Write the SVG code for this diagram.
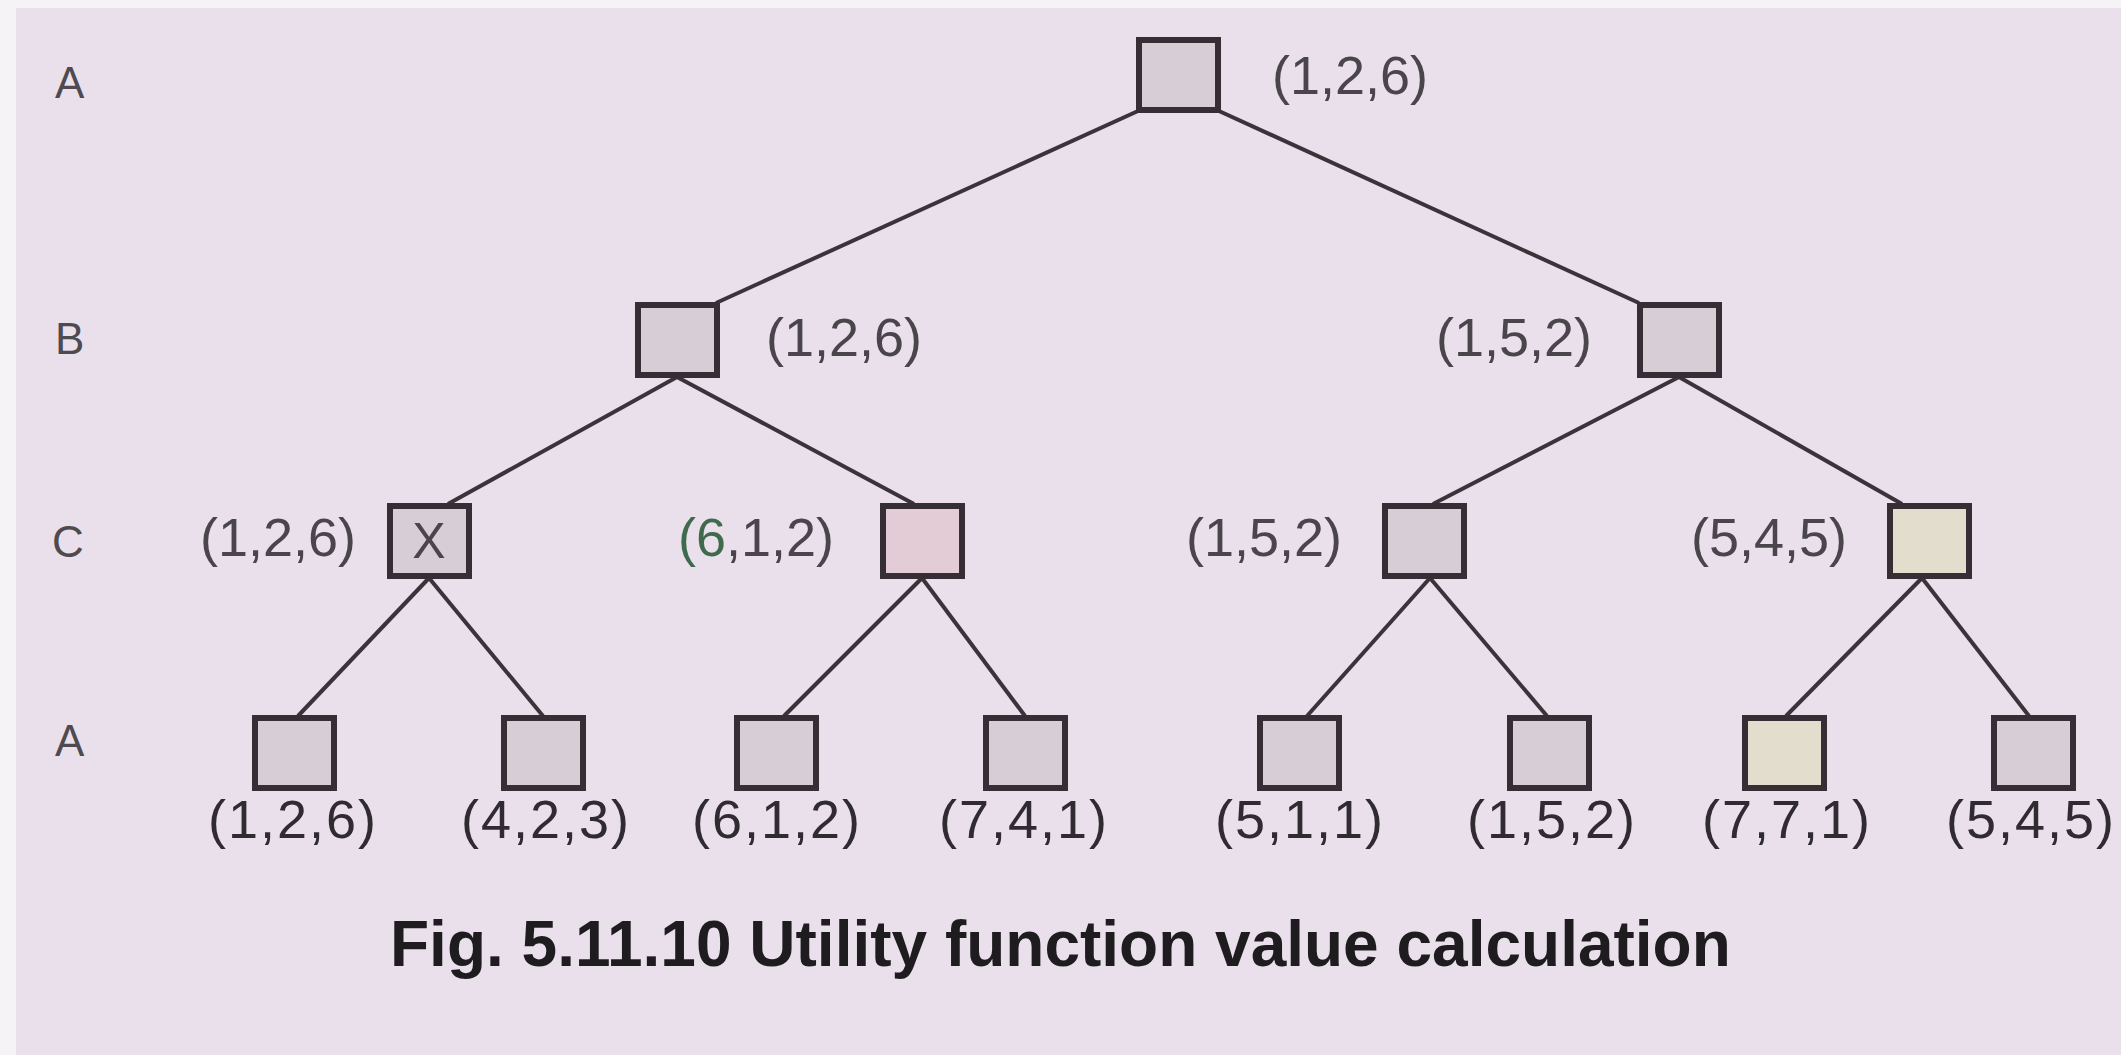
<svg xmlns="http://www.w3.org/2000/svg" width="2121" height="1055" viewBox="0 0 2121 1055">
<style>
.bg{fill:#e9e0ec}
.box{fill:#d6cdd6;stroke:#352e34;stroke-width:6}
.pink{fill:#e4ccd6}
.yel{fill:#e2ddcd}
.edge{stroke:#3a3339;stroke-width:4;fill:none}
.lbl{font-family:"Liberation Sans",Arial,sans-serif;font-size:54px;fill:#2f2b31}
.leaf{letter-spacing:2px}
.up{fill:#4a454b}
.lvl{font-family:"Liberation Sans",Arial,sans-serif;font-size:44px;fill:#4f4a50}
.title{font-family:"Liberation Sans",Arial,sans-serif;font-size:64px;font-weight:bold;fill:#1f1c20}
</style>
<rect x="0" y="0" width="2121" height="1055" fill="#f6f3f6"/>
<rect class="bg" x="16" y="8" width="2105" height="1047"/>
<g id="levels">
<text class="lvl" x="55" y="98">A</text>
<text class="lvl" x="55" y="354">B</text>
<text class="lvl" x="52" y="557">C</text>
<text class="lvl" x="55" y="756">A</text>
</g>
<g id="connectors">
<line class="edge" x1="1138" y1="111" x2="716" y2="303"/>
<line class="edge" x1="1219" y1="111" x2="1639" y2="303"/>
<line class="edge" x1="677" y1="377" x2="448" y2="504"/>
<line class="edge" x1="677" y1="377" x2="914" y2="504"/>
<line class="edge" x1="1679" y1="377" x2="1433" y2="504"/>
<line class="edge" x1="1679" y1="377" x2="1902" y2="504"/>
<line class="edge" x1="429" y1="578" x2="298" y2="716"/>
<line class="edge" x1="429" y1="578" x2="543" y2="716"/>
<line class="edge" x1="922" y1="578" x2="784" y2="716"/>
<line class="edge" x1="922" y1="578" x2="1025" y2="716"/>
<line class="edge" x1="1430" y1="578" x2="1307" y2="716"/>
<line class="edge" x1="1430" y1="578" x2="1547" y2="716"/>
<line class="edge" x1="1922" y1="578" x2="1786" y2="716"/>
<line class="edge" x1="1922" y1="578" x2="2029" y2="716"/>
</g>
<g id="root"><rect class="box" x="1139" y="40" width="79" height="70"/><text class="lbl up" x="1272" y="94">(1,2,6)</text></g>
<g id="b1"><rect class="box" x="638" y="305" width="79" height="70"/><text class="lbl up" x="766" y="356">(1,2,6)</text></g>
<g id="b2"><rect class="box" x="1640" y="305" width="79" height="70"/><text class="lbl up" x="1592" y="356" text-anchor="end">(1,5,2)</text></g>
<g id="c1"><rect class="box" x="390" y="506" width="79" height="70"/><text class="lbl up" x="429" y="558" text-anchor="middle" style="font-size:50px">X</text><text class="lbl up" x="356" y="556" text-anchor="end">(1,2,6)</text></g>
<g id="c2"><rect class="box pink" x="883" y="506" width="79" height="70"/><text class="lbl up" x="834" y="556" text-anchor="end"><tspan fill="#3f6a4c">(6</tspan>,1,2)</text></g>
<g id="c3"><rect class="box" x="1385" y="506" width="79" height="70"/><text class="lbl up" x="1342" y="556" text-anchor="end">(1,5,2)</text></g>
<g id="c4"><rect class="box yel" x="1890" y="506" width="79" height="70"/><text class="lbl up" x="1847" y="556" text-anchor="end">(5,4,5)</text></g>
<g id="l1"><rect class="box" x="255" y="718" width="79" height="70"/><text class="lbl leaf" x="293" y="838" text-anchor="middle">(1,2,6)</text></g>
<g id="l2"><rect class="box" x="504" y="718" width="79" height="70"/><text class="lbl leaf" x="546" y="838" text-anchor="middle">(4,2,3)</text></g>
<g id="l3"><rect class="box" x="737" y="718" width="79" height="70"/><text class="lbl leaf" x="777" y="838" text-anchor="middle">(6,1,2)</text></g>
<g id="l4"><rect class="box" x="986" y="718" width="79" height="70"/><text class="lbl leaf" x="1024" y="838" text-anchor="middle">(7,4,1)</text></g>
<g id="l5"><rect class="box" x="1260" y="718" width="79" height="70"/><text class="lbl leaf" x="1300" y="838" text-anchor="middle">(5,1,1)</text></g>
<g id="l6"><rect class="box" x="1510" y="718" width="79" height="70"/><text class="lbl leaf" x="1552" y="838" text-anchor="middle">(1,5,2)</text></g>
<g id="l7"><rect class="box yel" x="1745" y="718" width="79" height="70"/><text class="lbl leaf" x="1787" y="838" text-anchor="middle">(7,7,1)</text></g>
<g id="l8"><rect class="box" x="1994" y="718" width="79" height="70"/><text class="lbl leaf" x="2031" y="838" text-anchor="middle">(5,4,5)</text></g>
<text class="title" x="390" y="966">Fig. 5.11.10 Utility function value calculation</text>
</svg>
